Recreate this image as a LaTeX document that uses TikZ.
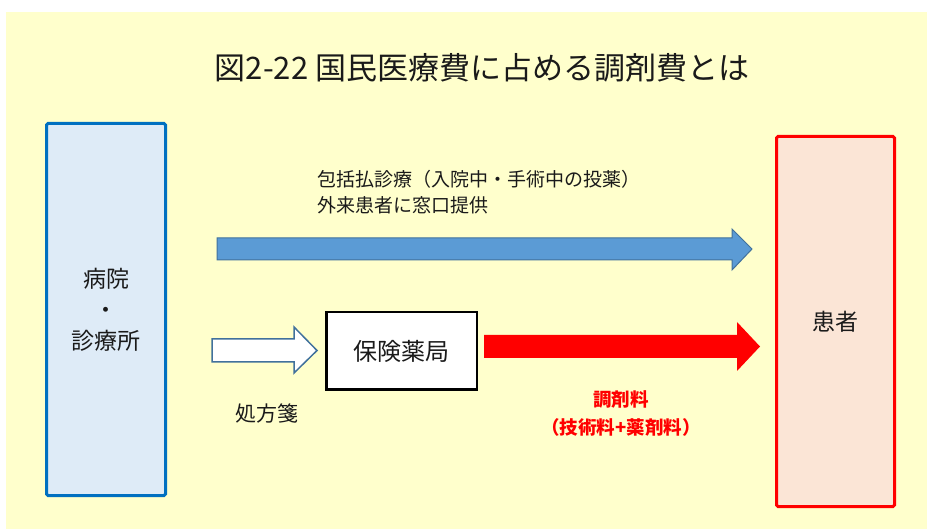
\documentclass[tikz,border=0pt]{standalone}
\usepackage{fontspec}
\setmainfont{Noto Sans CJK JP}
\usetikzlibrary{calc}

\definecolor{bgyellow}{HTML}{FFFFCC}
\definecolor{hospblue}{HTML}{0070C0}
\definecolor{hospfill}{HTML}{DEEBF7}
\definecolor{patfill}{HTML}{FBE5D6}
\definecolor{arrowblue}{HTML}{5B9BD5}
\definecolor{arrowedge}{HTML}{41719C}
\definecolor{textgray}{HTML}{1A1A1A}

\tikzset{
	facility/.style={draw=hospblue, line width=3pt, fill=hospfill, rounded corners=1.5pt,
		text=textgray, align=center, font=\fontsize{23}{31}\selectfont},
	patientbox/.style={draw=red, line width=3pt, fill=patfill, rounded corners=1.5pt,
		text=textgray, font=\fontsize{23}{31}\selectfont},
	pharmbox/.style={draw=black, line width=2.5pt, fill=white, text=textgray,
		font=\fontsize{24}{28}\selectfont},
	bluearrow/.style={fill=arrowblue, draw=arrowedge, line width=1pt, line join=miter},
	whitearrow/.style={fill=white, draw=arrowedge, line width=1.5pt, line join=miter},
	redarrow/.style={fill=red, draw=none},
	note/.style={text=textgray, align=left, font=\fontsize{19}{26}\selectfont},
	fee/.style={text=red, align=center, font=\bfseries\fontsize{18.5}{28}\selectfont}
}

\begin{document}
\begin{tikzpicture}[x=1pt,y=-1pt]

	\useasboundingbox (0,0) rectangle (927,529);
	\fill[bgyellow] (6,12) rectangle (927,529);

	% title
	\node[text=textgray, font=\fontsize{31}{36}\selectfont] (title) at (482,68)
		{図2-22 国民医療費に占める調剤費とは};

	% boxes
	\node[facility, minimum width=119pt, minimum height=372pt] (hospital) at (106,309.5)
		{病院\\・\\診療所};
	\node[patientbox, minimum width=118pt, minimum height=370pt] (patient) at (835.5,321.5)
		{患者};
	\node[pharmbox, minimum width=150.5pt, minimum height=77.5pt] (pharmacy) at (401.5,351)
		{保険薬局};

	% inpatient / outpatient route
	\draw[bluearrow] (217,238) -- (732,238) -- (732,229) -- (752,249)
		-- (732,270) -- (732,260) -- (217,260) -- cycle;
	\node[note, anchor=west] (dpc) at (314,192)
		{包括払診療（入院中・手術中の投薬）\\外来患者に窓口提供};

	% prescription
	\draw[whitearrow] (212,339) -- (294,339) -- (294,327) -- (317,350.5)
		-- (294,373) -- (294,362) -- (212,362) -- cycle;
	\node[text=textgray, font=\fontsize{21}{24}\selectfont] (rx) at (267,414) {処方箋};

	% dispensing fee
	\draw[redarrow] ($(pharmacy.east)+(6,-16)$) -- (737,335) -- (737,322) -- (760,346.5)
		-- (737,371) -- (737,358) -- ($(pharmacy.east)+(6,7)$) -- cycle;
	\node[fee] (fee) at (621,414) {調剤料\\（技術料+薬剤料）};

\end{tikzpicture}
\end{document}
